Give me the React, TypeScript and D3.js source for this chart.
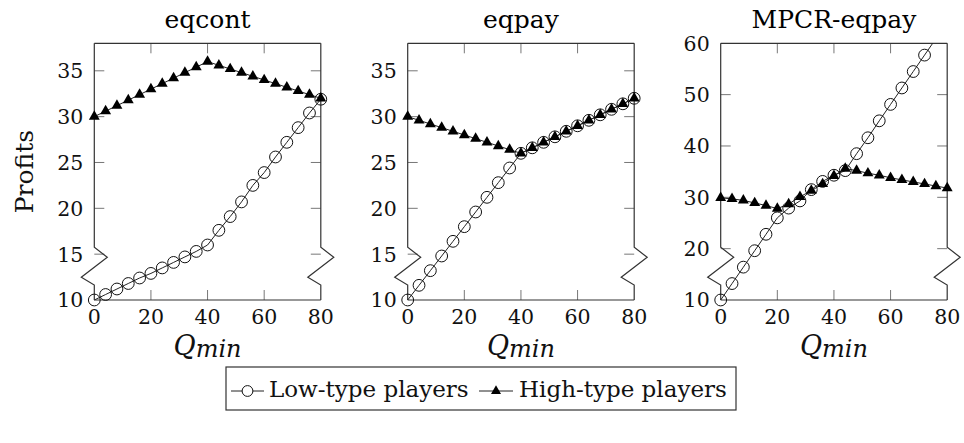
import * as d3 from 'd3'

// ─── Data ─────────────────────────────────────────────────────────────────────

const qMin = [0, 4, 8, 12, 16, 20, 24, 28, 32, 36, 40, 44, 48, 52, 56, 60, 64, 68, 72, 76, 80]

const eqcontLow = [10.0, 10.6, 11.2, 11.8, 12.4, 12.9, 13.5, 14.1, 14.7, 15.3, 16.0, 17.6, 19.1, 20.7, 22.5, 23.9, 25.6, 27.2, 28.8, 30.4, 31.9]
const eqcontHigh = [30.0, 30.6, 31.2, 31.8, 32.4, 33.0, 33.6, 34.2, 34.8, 35.4, 36.0, 35.6, 35.2, 34.8, 34.4, 34.0, 33.6, 33.2, 32.8, 32.4, 32.0]

const eqpayLow = [10.0, 11.6, 13.2, 14.8, 16.4, 18.0, 19.6, 21.2, 22.8, 24.4, 26.0, 26.6, 27.2, 27.8, 28.4, 29.0, 29.6, 30.2, 30.8, 31.4, 32.0]
const eqpayHigh = [30.0, 29.6, 29.2, 28.8, 28.4, 28.0, 27.6, 27.2, 26.8, 26.4, 26.0, 26.6, 27.2, 27.8, 28.4, 29.0, 29.6, 30.2, 30.8, 31.4, 32.0]

const mpcrLow = [10.0, 13.2, 16.4, 19.6, 22.8, 26.0, 27.9, 29.3, 31.5, 33.1, 34.3, 35.2, 38.5, 41.6, 44.9, 48.1, 51.3, 54.5, 57.7, 60.9, 64.1]
const mpcrHigh = [29.9, 29.7, 29.4, 28.9, 28.4, 27.8, 28.7, 30.1, 31.3, 32.6, 34.2, 35.6, 35.2, 34.7, 34.3, 33.8, 33.4, 33.0, 32.6, 32.2, 31.8]

const titles = ['eqcont', 'eqpay', 'MPCR-eqpay']
const xTicks = [0, 20, 40, 60, 80]
const yTicksSmall = [10, 15, 20, 25, 30, 35]
const yTicksWide = [10, 20, 30, 40, 50, 60]
const legendLabels = ['Low-type players', 'High-type players']

// ─── Layout ───────────────────────────────────────────────────────────────────

const W = 964
const H = 443
const FONT = '"DejaVu Serif", serif'
const panelLeft = [94.3, 407.7, 720.7]
const plotW = 226.5
const top = 43.3
const bottom = 300
const tickLen = 10

const panels = [
  { title: titles[0], low: eqcontLow, high: eqcontHigh, yDomain: [10, 38], yTicks: yTicksSmall },
  { title: titles[1], low: eqpayLow, high: eqpayHigh, yDomain: [10, 38], yTicks: yTicksSmall },
  { title: titles[2], low: mpcrLow, high: mpcrHigh, yDomain: [10, 60], yTicks: yTicksWide },
]

function trianglePath(cx: number, cy: number, r = 6.3) {
  const hw = (r * Math.sqrt(3)) / 2
  return `M${cx},${cy - r}L${cx + hw},${cy + r / 2}L${cx - hw},${cy + r / 2}Z`
}

// vertical axis line with the "crunch" zigzag near the bottom
function brokenAxis(x: number) {
  return `M${x},${top}L${x},${bottom - 52.7}L${x + 13},${bottom - 42.7}L${x - 13},${bottom - 22.7}L${x},${bottom - 15}L${x},${bottom}`
}

function Panel({ idx }: { idx: number }) {
  const p = panels[idx]
  const left = panelLeft[idx]
  const right = left + plotW
  const cx = (left + right) / 2
  const x = d3.scaleLinear().domain([0, 80]).range([left, right])
  const y = d3.scaleLinear().domain(p.yDomain).range([bottom, top])
  const line = d3
    .line<number>()
    .x((_, i) => x(qMin[i]))
    .y((d) => y(d))
  const [yMin, yMax] = p.yDomain
  const inner = p.yTicks.filter((t) => t > yMin && t < yMax)
  const clipId = `clip-${idx}`

  return (
    <g>
      <defs>
        <clipPath id={clipId}>
          <rect x={left - 20} y={top} width={plotW + 40} height={bottom - top + 20} />
        </clipPath>
      </defs>

      <text x={cx} y={28} textAnchor="middle" fontSize={25} fontFamily={FONT}>
        {p.title}
      </text>

      {/* ticks */}
      <g stroke="#777" strokeWidth={1}>
        {xTicks.slice(1, -1).map((t) => (
          <g key={`xt${t}`}>
            <line x1={x(t)} x2={x(t)} y1={bottom} y2={bottom - tickLen} />
            <line x1={x(t)} x2={x(t)} y1={top} y2={top + tickLen} />
          </g>
        ))}
        {inner.map((t) => (
          <g key={`yt${t}`}>
            <line x1={left} x2={left + tickLen} y1={y(t)} y2={y(t)} />
            <line x1={right} x2={right - tickLen} y1={y(t)} y2={y(t)} />
          </g>
        ))}
      </g>

      {/* frame */}
      <g stroke="#333" strokeWidth={1.2} fill="none">
        <path d={`M${left},${top}H${right}`} />
        <path d={`M${left},${bottom}H${right}`} />
        <path d={brokenAxis(left)} />
        <path d={brokenAxis(right)} />
      </g>

      {/* tick labels */}
      <g fontFamily={FONT} fontSize={20.5} fill="#111">
        {xTicks.map((t) => (
          <text key={`xl${t}`} x={x(t)} y={323.5} textAnchor="middle">
            {t}
          </text>
        ))}
        {p.yTicks.map((t) => (
          <text key={`yl${t}`} x={left - 11} y={y(t)} dy="0.36em" textAnchor="end">
            {t}
          </text>
        ))}
      </g>

      {/* series */}
      <g clipPath={`url(#${clipId})`} fill="none" stroke="#222" strokeWidth={1}>
        <path d={line(p.low) ?? ''} />
        <path d={line(p.high) ?? ''} />
      </g>
      <g fill="none" stroke="#111" strokeWidth={1}>
        {p.low.map((v, i) =>
          v <= yMax ? <circle key={`c${i}`} cx={x(qMin[i])} cy={y(v)} r={5.9} /> : null,
        )}
      </g>
      <g fill="#000">
        {p.high.map((v, i) => (
          <path key={`t${i}`} d={trianglePath(x(qMin[i]), y(v))} />
        ))}
      </g>

      {/* x label */}
      <text x={cx} y={355} textAnchor="middle" fontFamily={FONT} fontStyle="italic" fill="#111">
        <tspan fontSize={27}>Q</tspan>
        <tspan fontSize={24} dy={2}>min</tspan>
      </text>
    </g>
  )
}

function Legend() {
  const boxTop = 367
  const rowY = 391
  const entries = [
    { label: legendLabels[0], x0: 231, x1: 264, text: 269, mark: 'circle' },
    { label: legendLabels[1], x0: 479, x1: 513, text: 519, mark: 'triangle' },
  ]
  return (
    <g>
      <rect x={226} y={boxTop} width={510} height={43} fill="#fff" stroke="#333" strokeWidth={1.2} />
      {entries.map((e) => {
        const mx = (e.x0 + e.x1) / 2
        return (
          <g key={e.label}>
            <line x1={e.x0} x2={e.x1} y1={rowY} y2={rowY} stroke="#222" strokeWidth={1} />
            {e.mark === 'circle' ? (
              <circle cx={mx} cy={rowY} r={5.4} fill="#fff" stroke="#111" strokeWidth={1} />
            ) : (
              <path d={trianglePath(mx, rowY, 5.8)} fill="#000" />
            )}
            <text x={e.text} y={396.5} fontFamily={FONT} fontSize={23} fill="#111">
              {e.label}
            </text>
          </g>
        )
      })}
    </g>
  )
}

export default function App() {
  return (
    <svg
      width={W}
      height={H}
      viewBox={`0 0 ${W} ${H}`}
      style={{ position: 'absolute', left: 0, top: 0, background: '#fff' }}
    >
      <text
        transform={`translate(33,${(top + bottom) / 2}) rotate(-90)`}
        textAnchor="middle"
        fontFamily={FONT}
        fontSize={25}
        fill="#111"
      >
        Profits
      </text>
      {panels.map((_, i) => (
        <Panel key={i} idx={i} />
      ))}
      <Legend />
    </svg>
  )
}
